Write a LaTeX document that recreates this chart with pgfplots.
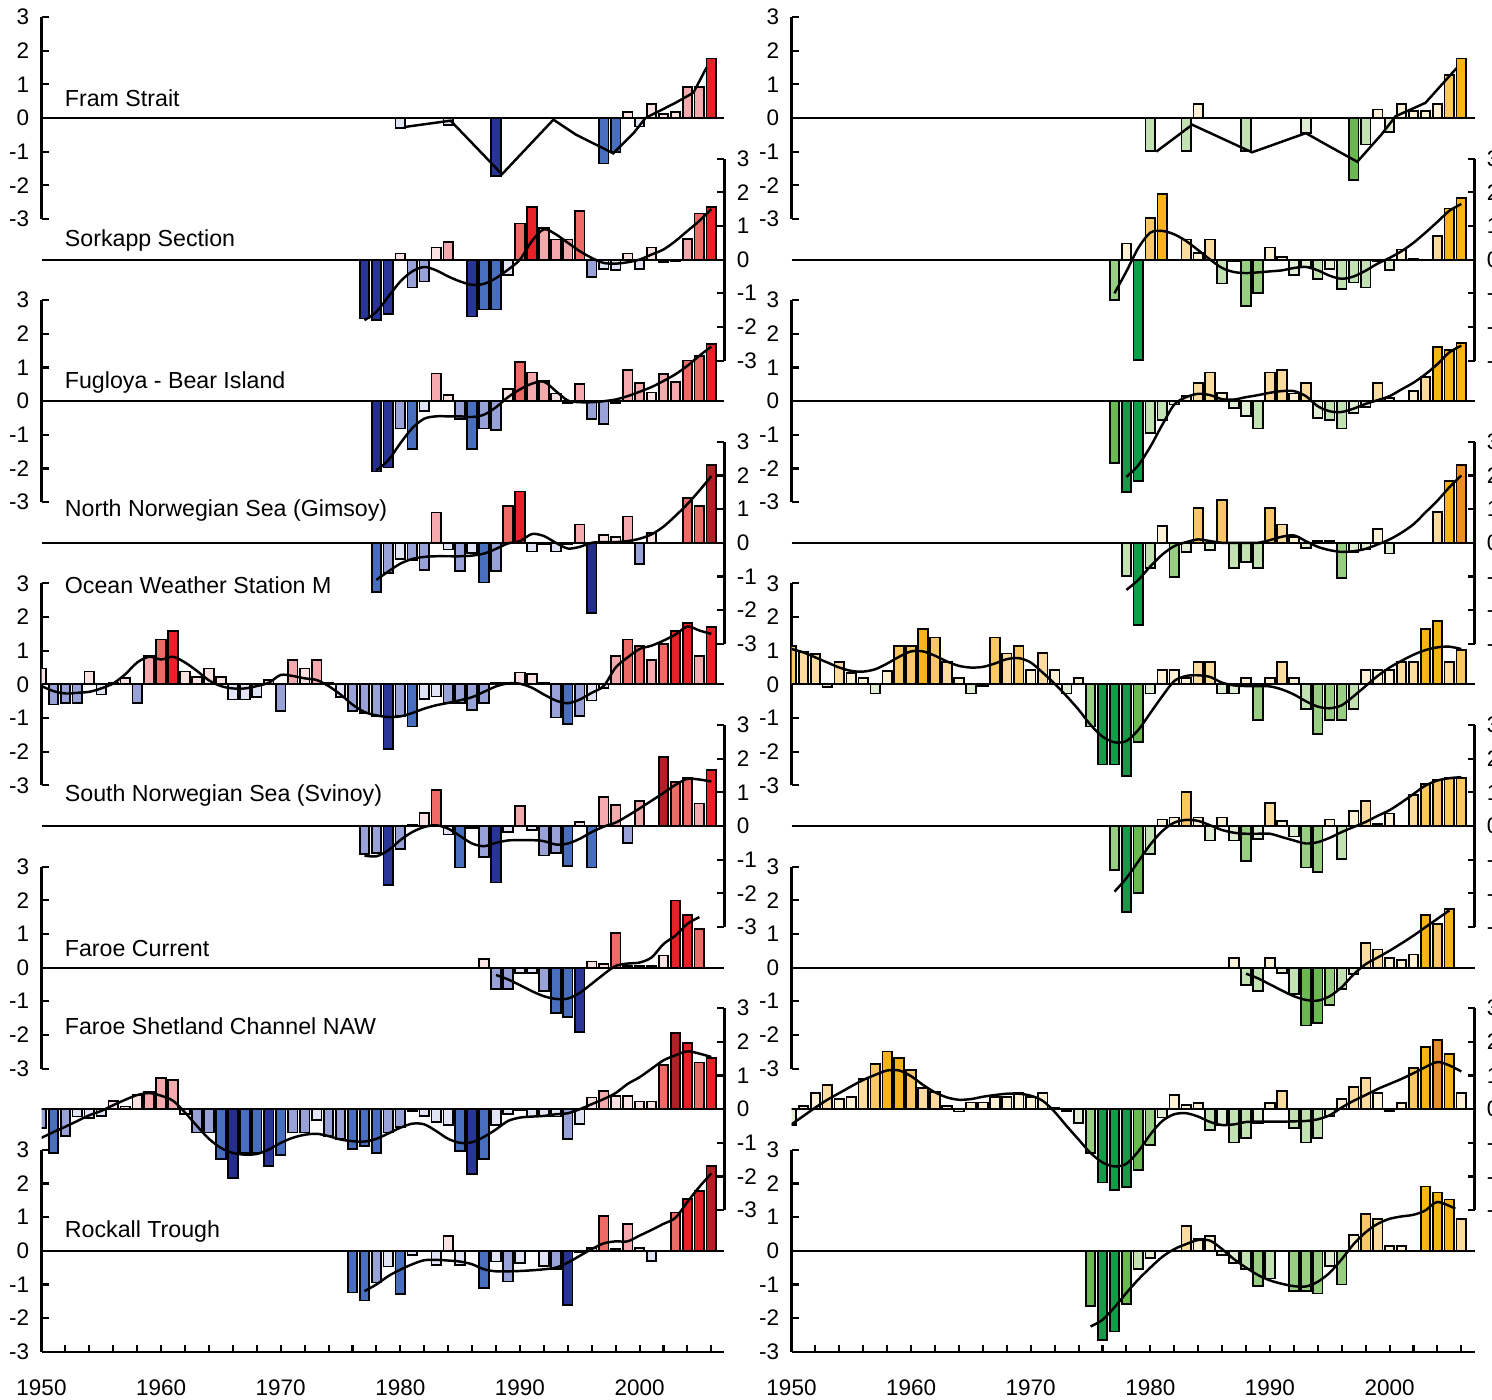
\documentclass[border=0pt]{standalone}
\usepackage{fontspec}
\setmainfont{Liberation Sans}
\usepackage{pgfplots}
\usepackage{pgfplotstable}
\pgfplotsset{compat=1.18}
\pgfkeys{/pgf/number format/assume math mode=true}
\pgfkeys{/pgf/number format/1000 sep={}}

\definecolor{Ra}{RGB}{251,226,226}
\definecolor{Rb}{RGB}{244,170,172}
\definecolor{Rc}{RGB}{238,106,102}
\definecolor{Rd}{RGB}{232,32,40}
\definecolor{Re}{RGB}{176,32,38}
\definecolor{Ba}{RGB}{224,228,245}
\definecolor{Bb}{RGB}{152,162,216}
\definecolor{Bc}{RGB}{72,110,190}
\definecolor{Bd}{RGB}{40,52,150}
\definecolor{Be}{RGB}{36,46,140}
\definecolor{Oa}{RGB}{253,242,214}
\definecolor{Ob}{RGB}{251,220,158}
\definecolor{Oc}{RGB}{250,200,98}
\definecolor{Od}{RGB}{246,180,24}
\definecolor{Oe}{RGB}{236,142,40}
\definecolor{Ga}{RGB}{224,238,214}
\definecolor{Gb}{RGB}{194,226,180}
\definecolor{Gc}{RGB}{152,206,130}
\definecolor{Gd}{RGB}{106,184,80}
\definecolor{Ge}{RGB}{18,156,72}

\newcommand{\tickfont}{\fontsize{6.4}{7}\selectfont}
\newcommand{\labfont}{\fontsize{6.6}{7.5}\selectfont}

\tikzset{lab/.style={anchor=west, font=\labfont, inner sep=0pt}}

\pgfplotsset{
  panel/.style={scale only axis, width=6.83cm, height=2.02cm, anchor=south west,
    xmin=1950, xmax=2007.1, ymin=-3, ymax=3,
    ytick={-3,-2,...,3}, tick align=inside, major tick length=0.07cm,
    axis line style={line width=0.6pt},
    every tick/.style={black, line width=0.6pt},
    tick label style={font=\tickfont},
    clip mode=individual},
  yL/.style={axis x line=none, axis y line*=left},
  yR/.style={axis x line=none, axis y line*=right},
  yLbottom/.style={axis y line*=left, axis x line*=bottom,
    xtick={1950,1960,...,2000},
    minor xtick={1952,1954,...,2006}, minor tick length=0.07cm,
    xticklabel style={yshift=-1.6mm}},
  mybar/.style={ybar, bar width=0.8, bar shift=0pt, draw=black, line width=0.5pt},
  trend/.style={black, line width=0.7pt, smooth, tension=0.5},
}

\newcommand{\drawbars}[3]{%
  \addplot[mybar,fill=#2a,restrict y to domain=0:0.4999] table {#1};
  \addplot[mybar,fill=#2b,restrict y to domain=0.5:0.9999] table {#1};
  \addplot[mybar,fill=#2c,restrict y to domain=1:1.4999] table {#1};
  \addplot[mybar,fill=#2d,restrict y to domain=1.5:1.9999] table {#1};
  \addplot[mybar,fill=#2e,restrict y to domain=2:5] table {#1};
  \addplot[mybar,fill=#3a,restrict y to domain=-0.4999:0] table {#1};
  \addplot[mybar,fill=#3b,restrict y to domain=-0.9999:-0.5] table {#1};
  \addplot[mybar,fill=#3c,restrict y to domain=-1.4999:-1] table {#1};
  \addplot[mybar,fill=#3d,restrict y to domain=-1.9999:-1.5] table {#1};
  \addplot[mybar,fill=#3e,restrict y to domain=-5:-2] table {#1};
  \draw[line width=0.6pt] (axis cs:1950,0) -- (axis cs:2007.1,0);
}

% ---------------- LEFT COLUMN (temperature) ----------------
\pgfplotstableread[row sep=\\]{x y\\
1980 -0.30\\ 1984 -0.20\\ 1988 -1.72\\ 1997 -1.35\\ 1998 -1.02\\ 1999 0.18\\ 2000 -0.25\\
2001 0.41\\ 2002 0.12\\ 2003 0.18\\ 2004 0.91\\ 2005 0.91\\ 2006 1.77\\}\LAb
\pgfplotstableread[row sep=\\]{x y\\
1980.3 -0.27\\ 1984.2 -0.08\\ 1988.5 -1.67\\ 1992.8 -0.05\\ 1994.7 -0.50\\ 1997.8 -1.05\\
1999.5 -0.45\\ 2000.5 0.00\\ 2003.0 0.45\\ 2004.5 0.75\\ 2005.6 1.50\\}\LAs

\pgfplotstableread[row sep=\\]{x y\\
1977 -1.75\\ 1978 -1.80\\ 1979 -1.62\\ 1980 0.18\\ 1981 -0.83\\ 1982 -0.65\\ 1983 0.36\\ 1984 0.52\\
1986 -1.69\\ 1987 -1.48\\ 1988 -1.48\\ 1989 -0.45\\ 1990 1.07\\ 1991 1.57\\ 1992 0.94\\ 1993 0.60\\
1994 0.60\\ 1995 1.44\\ 1996 -0.52\\ 1997 -0.27\\ 1998 -0.32\\ 1999 0.18\\ 2000 -0.27\\ 2001 0.36\\
2002 -0.07\\ 2003 -0.04\\ 2004 0.62\\ 2005 1.37\\ 2006 1.57\\}\LBb
\pgfplotstableread[row sep=\\]{x y\\
1977 -1.80\\ 1978 -1.55\\ 1979 -1.10\\ 1980 -0.65\\ 1981 -0.35\\ 1982 -0.22\\ 1983 -0.32\\ 1984 -0.50\\
1985 -0.65\\ 1986 -0.75\\ 1987 -0.72\\ 1988 -0.55\\ 1989 -0.30\\ 1990 0.00\\ 1991 0.55\\ 1992 0.90\\
1993 0.75\\ 1994 0.50\\ 1995 0.25\\ 1996 0.05\\ 1997 -0.10\\ 1998 -0.12\\ 1999 -0.08\\ 2000 0.00\\
2001 0.15\\ 2002 0.30\\ 2003 0.55\\ 2004 0.85\\ 2005 1.15\\ 2006 1.50\\}\LBs

\pgfplotstableread[row sep=\\]{x y\\
1978 -2.09\\ 1979 -1.97\\ 1980 -0.81\\ 1981 -1.42\\ 1982 -0.29\\ 1983 0.82\\ 1984 0.18\\ 1985 -0.54\\
1986 -1.42\\ 1987 -0.81\\ 1988 -0.86\\ 1989 0.37\\ 1990 1.16\\ 1991 0.85\\ 1992 0.60\\ 1993 0.23\\
1994 -0.05\\ 1995 0.52\\ 1996 -0.54\\ 1997 -0.68\\ 1998 -0.05\\ 1999 0.92\\ 2000 0.54\\ 2001 0.26\\
2002 0.80\\ 2003 0.57\\ 2004 1.21\\ 2005 1.34\\ 2006 1.70\\}\LCb
\pgfplotstableread[row sep=\\]{x y\\
1978 -2.05\\ 1979 -1.75\\ 1980 -1.25\\ 1981 -0.80\\ 1982 -0.52\\ 1983 -0.45\\ 1984 -0.45\\ 1985 -0.45\\
1986 -0.47\\ 1987 -0.40\\ 1988 -0.18\\ 1989 0.12\\ 1990 0.35\\ 1991 0.52\\ 1992 0.58\\ 1993 0.30\\
1994 0.02\\ 1995 -0.03\\ 1996 -0.03\\ 1997 0.00\\ 1998 0.05\\ 1999 0.15\\ 2000 0.28\\ 2001 0.42\\
2002 0.60\\ 2003 0.80\\ 2004 1.05\\ 2005 1.35\\ 2006 1.62\\}\LCs

\pgfplotstableread[row sep=\\]{x y\\
1978 -1.47\\ 1979 -0.90\\ 1980 -0.48\\ 1981 -0.52\\ 1982 -0.80\\ 1983 0.90\\ 1984 -0.20\\ 1985 -0.83\\
1986 -0.30\\ 1987 -1.18\\ 1988 -0.83\\ 1989 1.10\\ 1990 1.52\\ 1991 -0.26\\ 1992 -0.05\\ 1993 -0.26\\
1994 -0.05\\ 1995 0.54\\ 1996 -2.09\\ 1997 0.22\\ 1998 0.17\\ 1999 0.78\\ 2000 -0.62\\ 2001 0.29\\
2004 1.32\\ 2005 1.10\\ 2006 2.30\\}\LDb
\pgfplotstableread[row sep=\\]{x y\\
1978 -1.10\\ 1979 -0.85\\ 1980 -0.62\\ 1981 -0.48\\ 1982 -0.42\\ 1983 -0.40\\ 1984 -0.40\\ 1985 -0.40\\
1986 -0.38\\ 1987 -0.32\\ 1988 -0.18\\ 1989 -0.02\\ 1990 0.05\\ 1991 0.26\\ 1992 0.20\\ 1993 0.00\\
1994 -0.17\\ 1995 -0.12\\ 1996 0.00\\ 1997 0.02\\ 1998 0.02\\ 1999 0.05\\ 2000 0.12\\ 2001 0.25\\
2002 0.48\\ 2003 0.80\\ 2004 1.15\\ 2005 1.55\\ 2006 1.98\\}\LDs

\pgfplotstableread[row sep=\\]{x y\\
1950 0.47\\ 1951 -0.60\\ 1952 -0.55\\ 1953 -0.55\\ 1954 0.38\\ 1955 -0.30\\ 1956 0.05\\ 1957 0.18\\
1958 -0.55\\ 1959 0.84\\ 1960 1.33\\ 1961 1.58\\ 1962 0.38\\ 1963 0.23\\ 1964 0.47\\ 1965 0.23\\
1966 -0.45\\ 1967 -0.45\\ 1968 -0.38\\ 1969 0.13\\ 1970 -0.80\\ 1971 0.72\\ 1972 0.47\\ 1973 0.72\\
1974 0.05\\ 1975 -0.38\\ 1976 -0.80\\ 1977 -0.85\\ 1978 -0.93\\ 1979 -1.92\\ 1980 -0.93\\ 1981 -1.25\\
1982 -0.44\\ 1983 -0.36\\ 1984 -0.56\\ 1985 -0.56\\ 1986 -0.76\\ 1987 -0.56\\ 1988 0.05\\ 1989 0.05\\
1990 0.35\\ 1991 0.30\\ 1992 0.05\\ 1993 -0.98\\ 1994 -1.18\\ 1995 -0.93\\ 1996 -0.48\\ 1997 -0.10\\
1998 0.84\\ 1999 1.33\\ 2000 1.13\\ 2001 0.72\\ 2002 1.21\\ 2003 1.58\\ 2004 1.82\\ 2005 0.84\\ 2006 1.70\\}\LEb
\pgfplotstableread[row sep=\\]{x y\\
1950 -0.05\\ 1951 -0.20\\ 1952 -0.27\\ 1953 -0.25\\ 1954 -0.22\\ 1955 -0.12\\ 1956 0.03\\ 1957 0.30\\
1958 0.65\\ 1959 0.82\\ 1960 0.74\\ 1961 0.82\\ 1962 0.65\\ 1963 0.40\\ 1964 0.12\\ 1965 -0.05\\
1966 -0.12\\ 1967 -0.12\\ 1968 -0.05\\ 1969 0.05\\ 1970 0.28\\ 1971 0.25\\ 1972 0.18\\ 1973 0.13\\
1974 -0.05\\ 1975 -0.30\\ 1976 -0.60\\ 1977 -0.82\\ 1978 -0.92\\ 1979 -0.97\\ 1980 -0.95\\ 1981 -0.85\\
1982 -0.72\\ 1983 -0.62\\ 1984 -0.55\\ 1985 -0.47\\ 1986 -0.38\\ 1987 -0.22\\ 1988 -0.06\\ 1989 0.03\\
1990 0.02\\ 1991 -0.10\\ 1992 -0.30\\ 1993 -0.48\\ 1994 -0.56\\ 1995 -0.45\\ 1996 -0.25\\ 1997 -0.05\\
1998 0.50\\ 1999 0.80\\ 2000 1.05\\ 2001 1.15\\ 2002 1.30\\ 2003 1.48\\ 2004 1.72\\ 2005 1.60\\ 2006 1.50\\}\LEs

\pgfplotstableread[row sep=\\]{x y\\
1977 -0.83\\ 1978 -0.81\\ 1979 -1.75\\ 1980 -0.68\\ 1981 0.03\\ 1982 0.39\\ 1983 1.07\\ 1984 -0.25\\
1985 -1.23\\ 1986 -0.05\\ 1987 -0.93\\ 1988 -1.68\\ 1989 -0.18\\ 1990 0.60\\ 1991 -0.13\\ 1992 -0.88\\
1993 -0.81\\ 1994 -1.18\\ 1995 0.12\\ 1996 -1.23\\ 1997 0.87\\ 1998 0.62\\ 1999 -0.51\\ 2000 0.75\\
2002 2.05\\ 2003 1.30\\ 2004 1.42\\ 2005 0.67\\ 2006 1.67\\}\LFb
\pgfplotstableread[row sep=\\]{x y\\
1977 -0.88\\ 1978 -0.90\\ 1979 -0.72\\ 1980 -0.42\\ 1981 -0.18\\ 1982 -0.03\\ 1983 0.02\\ 1984 -0.08\\
1985 -0.30\\ 1986 -0.52\\ 1987 -0.60\\ 1988 -0.50\\ 1989 -0.43\\ 1990 -0.42\\ 1991 -0.42\\ 1992 -0.45\\
1993 -0.55\\ 1994 -0.52\\ 1995 -0.38\\ 1996 -0.18\\ 1997 -0.02\\ 1998 0.10\\ 1999 0.30\\ 2000 0.52\\
2001 0.75\\ 2002 0.98\\ 2003 1.22\\ 2004 1.40\\ 2005 1.38\\ 2006 1.32\\}\LFs

\pgfplotstableread[row sep=\\]{x y\\
1987 0.25\\ 1988 -0.64\\ 1989 -0.64\\ 1990 -0.15\\ 1991 -0.15\\ 1992 -0.69\\ 1993 -1.35\\ 1994 -1.47\\
1995 -1.91\\ 1996 0.18\\ 1997 0.10\\ 1998 1.03\\ 1999 0.05\\ 2000 0.05\\ 2001 0.05\\ 2002 0.36\\
2003 1.99\\ 2004 1.57\\ 2005 1.15\\}\LGb
\pgfplotstableread[row sep=\\]{x y\\
1988 -0.22\\ 1989 -0.35\\ 1990 -0.52\\ 1991 -0.70\\ 1992 -0.85\\ 1993 -0.93\\ 1994 -0.92\\ 1995 -0.75\\
1996 -0.48\\ 1997 -0.20\\ 1998 0.05\\ 1999 0.12\\ 2000 0.15\\ 2001 0.30\\ 2002 0.70\\ 2003 0.95\\
2004 1.30\\ 2005 1.50\\}\LGs

\pgfplotstableread[row sep=\\]{x y\\
1950 -0.56\\ 1951 -1.30\\ 1952 -0.80\\ 1953 -0.22\\ 1954 -0.27\\ 1955 -0.20\\ 1956 0.25\\ 1957 0.08\\
1958 0.42\\ 1959 0.52\\ 1960 0.92\\ 1961 0.87\\ 1962 -0.15\\ 1963 -0.69\\ 1964 -0.69\\ 1965 -1.49\\
1966 -2.05\\ 1967 -1.30\\ 1968 -1.30\\ 1969 -1.68\\ 1970 -1.36\\ 1971 -0.69\\ 1972 -0.69\\ 1973 -0.32\\
1974 -0.80\\ 1975 -0.88\\ 1976 -1.18\\ 1977 -1.10\\ 1978 -1.30\\ 1979 -0.69\\ 1980 -0.52\\ 1981 -0.05\\
1982 -0.20\\ 1983 -0.37\\ 1984 -0.48\\ 1985 -1.25\\ 1986 -1.92\\ 1987 -1.49\\ 1988 -0.48\\ 1989 -0.15\\
1990 -0.03\\ 1991 -0.22\\ 1992 -0.22\\ 1993 -0.22\\ 1994 -0.88\\ 1995 -0.45\\ 1996 0.35\\ 1997 0.55\\
1998 0.40\\ 1999 0.40\\ 2000 0.23\\ 2001 0.23\\ 2002 1.32\\ 2003 2.26\\ 2004 1.96\\ 2005 1.39\\ 2006 1.51\\}\LHb
\pgfplotstableread[row sep=\\]{x y\\
1950 -0.85\\ 1951 -0.68\\ 1952 -0.52\\ 1953 -0.35\\ 1954 -0.18\\ 1955 -0.05\\ 1956 0.12\\ 1957 0.28\\
1958 0.42\\ 1959 0.48\\ 1960 0.40\\ 1961 0.25\\ 1962 -0.10\\ 1963 -0.50\\ 1964 -0.88\\ 1965 -1.15\\
1966 -1.30\\ 1967 -1.35\\ 1968 -1.33\\ 1969 -1.20\\ 1970 -1.00\\ 1971 -0.85\\ 1972 -0.76\\ 1973 -0.73\\
1974 -0.80\\ 1975 -0.90\\ 1976 -0.95\\ 1977 -0.96\\ 1978 -0.88\\ 1979 -0.72\\ 1980 -0.55\\ 1981 -0.43\\
1982 -0.45\\ 1983 -0.65\\ 1984 -0.88\\ 1985 -1.00\\ 1986 -0.98\\ 1987 -0.82\\ 1988 -0.60\\ 1989 -0.35\\
1990 -0.25\\ 1991 -0.22\\ 1992 -0.20\\ 1993 -0.15\\ 1994 -0.12\\ 1995 0.00\\ 1996 0.15\\ 1997 0.30\\
1998 0.48\\ 1999 0.75\\ 2000 0.95\\ 2001 1.20\\ 2002 1.45\\ 2003 1.60\\ 2004 1.72\\ 2005 1.65\\ 2006 1.55\\}\LHs

\pgfplotstableread[row sep=\\]{x y\\
1976 -1.24\\ 1977 -1.48\\ 1978 -0.94\\ 1979 -0.47\\ 1980 -1.28\\ 1981 -0.12\\ 1983 -0.42\\ 1984 0.45\\
1985 -0.42\\ 1987 -1.10\\ 1988 -0.32\\ 1989 -0.91\\ 1990 -0.37\\ 1992 -0.45\\ 1993 -0.54\\ 1994 -1.60\\
1995 -0.05\\ 1996 0.08\\ 1997 1.04\\ 1998 0.05\\ 1999 0.80\\ 2000 0.08\\ 2001 -0.30\\ 2003 1.14\\
2004 1.53\\ 2005 1.78\\ 2006 2.52\\}\LIb
\pgfplotstableread[row sep=\\]{x y\\
1977 -1.20\\ 1978 -1.00\\ 1979 -0.75\\ 1980 -0.56\\ 1981 -0.40\\ 1982 -0.28\\ 1983 -0.27\\ 1984 -0.29\\
1985 -0.32\\ 1986 -0.40\\ 1987 -0.55\\ 1988 -0.61\\ 1989 -0.61\\ 1990 -0.60\\ 1991 -0.58\\ 1992 -0.55\\
1993 -0.50\\ 1994 -0.35\\ 1995 -0.15\\ 1996 0.05\\ 1997 0.22\\ 1998 0.28\\ 1999 0.28\\ 2000 0.45\\
2001 0.62\\ 2002 0.80\\ 2003 0.98\\ 2004 1.45\\ 2005 1.90\\ 2006 2.30\\}\LIs

% ---------------- RIGHT COLUMN (salinity) ----------------
\pgfplotstableread[row sep=\\]{x y\\
1980 -0.98\\ 1983 -0.98\\ 1984 0.41\\ 1988 -0.98\\ 1993 -0.44\\ 1997 -1.84\\ 1998 -0.79\\ 1999 0.25\\
2000 -0.42\\ 2001 0.41\\ 2002 0.20\\ 2003 0.20\\ 2004 0.41\\ 2005 1.28\\ 2006 1.77\\}\RAb
\pgfplotstableread[row sep=\\]{x y\\
1980.5 -1.00\\ 1983.5 -0.20\\ 1988.5 -1.02\\ 1993.0 -0.45\\ 1995.0 -0.85\\ 1997.3 -1.30\\ 1999.3 -0.50\\
2000.5 0.05\\ 2003.0 0.45\\ 2005.6 1.48\\}\RAs

\pgfplotstableread[row sep=\\]{x y\\
1977 -1.21\\ 1978 0.48\\ 1979 -2.98\\ 1980 1.24\\ 1981 1.95\\ 1983 0.60\\ 1984 0.20\\ 1985 0.60\\
1986 -0.71\\ 1987 -0.05\\ 1988 -1.38\\ 1989 -1.00\\ 1990 0.36\\ 1991 0.08\\ 1992 -0.45\\ 1993 -0.22\\
1994 -0.58\\ 1995 -0.27\\ 1996 -0.88\\ 1997 -0.68\\ 1998 -0.83\\ 1999 -0.05\\ 2000 -0.32\\ 2001 0.30\\
2002 0.03\\ 2004 0.69\\ 2005 1.52\\ 2006 1.82\\}\RBb
\pgfplotstableread[row sep=\\]{x y\\
1977 -1.00\\ 1978 -0.35\\ 1979 0.35\\ 1980 0.80\\ 1981 0.85\\ 1982 0.75\\ 1983 0.55\\ 1984 0.28\\
1985 0.00\\ 1986 -0.25\\ 1987 -0.37\\ 1988 -0.40\\ 1989 -0.38\\ 1990 -0.35\\ 1991 -0.32\\ 1992 -0.25\\
1993 -0.22\\ 1994 -0.32\\ 1995 -0.48\\ 1996 -0.57\\ 1997 -0.50\\ 1998 -0.33\\ 1999 -0.12\\ 2000 0.05\\
2001 0.25\\ 2002 0.50\\ 2003 0.80\\ 2004 1.12\\ 2005 1.45\\ 2006 1.65\\}\RBs

\pgfplotstableread[row sep=\\]{x y\\
1977 -1.84\\ 1978 -2.70\\ 1979 -2.38\\ 1980 -0.94\\ 1981 -0.56\\ 1982 -0.10\\ 1983 0.16\\ 1984 0.54\\
1985 0.85\\ 1986 0.25\\ 1987 -0.20\\ 1988 -0.44\\ 1989 -0.81\\ 1990 0.85\\ 1991 0.92\\ 1992 0.23\\
1993 0.54\\ 1994 -0.49\\ 1995 -0.56\\ 1996 -0.81\\ 1997 -0.36\\ 1998 -0.17\\ 1999 0.55\\ 2000 0.10\\
2002 0.30\\ 2003 0.72\\ 2004 1.60\\ 2005 1.53\\ 2006 1.72\\}\RCb
\pgfplotstableread[row sep=\\]{x y\\
1978 -2.25\\ 1979 -1.90\\ 1980 -1.35\\ 1981 -0.70\\ 1982 -0.10\\ 1983 0.12\\ 1984 0.22\\ 1985 0.18\\
1986 0.06\\ 1987 0.05\\ 1988 0.12\\ 1989 0.18\\ 1990 0.25\\ 1991 0.30\\ 1992 0.30\\ 1993 0.15\\
1994 -0.15\\ 1995 -0.30\\ 1996 -0.32\\ 1997 -0.22\\ 1998 -0.08\\ 1999 0.03\\ 2000 0.15\\ 2001 0.35\\
2002 0.55\\ 2003 0.80\\ 2004 1.10\\ 2005 1.45\\ 2006 1.65\\}\RCs

\pgfplotstableread[row sep=\\]{x y\\
1978 -0.99\\ 1979 -2.45\\ 1980 -0.74\\ 1981 0.49\\ 1982 -1.02\\ 1983 -0.27\\ 1984 1.03\\ 1985 -0.22\\
1986 1.27\\ 1987 -0.75\\ 1988 -0.56\\ 1989 -0.75\\ 1990 1.03\\ 1991 0.54\\ 1992 0.17\\ 1993 -0.15\\
1994 0.05\\ 1995 0.05\\ 1996 -1.05\\ 1997 -0.29\\ 1998 -0.20\\ 1999 0.42\\ 2000 -0.32\\ 2004 0.91\\
2005 1.83\\ 2006 2.30\\}\RDb
\pgfplotstableread[row sep=\\]{x y\\
1978 -1.40\\ 1979 -1.10\\ 1980 -0.70\\ 1981 -0.35\\ 1982 -0.10\\ 1983 0.02\\ 1984 0.10\\ 1985 0.05\\
1986 0.00\\ 1987 0.00\\ 1988 0.00\\ 1989 0.00\\ 1990 0.08\\ 1991 0.18\\ 1992 0.22\\ 1993 0.05\\
1994 -0.12\\ 1995 -0.22\\ 1996 -0.27\\ 1997 -0.25\\ 1998 -0.18\\ 1999 -0.05\\ 2000 0.10\\ 2001 0.30\\
2002 0.55\\ 2003 0.90\\ 2004 1.25\\ 2005 1.65\\ 2006 2.00\\}\RDs

\pgfplotstableread[row sep=\\]{x y\\
1950 1.13\\ 1951 0.97\\ 1952 0.90\\ 1953 -0.07\\ 1954 0.67\\ 1955 0.34\\ 1956 0.18\\ 1957 -0.27\\
1958 0.40\\ 1959 1.15\\ 1960 1.15\\ 1961 1.64\\ 1962 1.39\\ 1963 0.67\\ 1964 0.18\\ 1965 -0.27\\
1966 -0.05\\ 1967 1.39\\ 1968 0.92\\ 1969 1.15\\ 1970 0.42\\ 1971 0.94\\ 1972 0.42\\ 1973 -0.27\\
1974 0.18\\ 1975 -1.25\\ 1976 -2.38\\ 1977 -2.38\\ 1978 -2.71\\ 1979 -1.72\\ 1980 -0.27\\ 1981 0.42\\
1982 0.42\\ 1983 0.18\\ 1984 0.67\\ 1985 0.67\\ 1986 -0.27\\ 1987 -0.27\\ 1988 0.18\\ 1989 -1.05\\
1990 0.18\\ 1991 0.67\\ 1992 0.18\\ 1993 -0.74\\ 1994 -1.48\\ 1995 -1.05\\ 1996 -1.05\\ 1997 -0.74\\
1998 0.42\\ 1999 0.42\\ 2000 0.42\\ 2001 0.67\\ 2002 0.67\\ 2003 1.64\\ 2004 1.88\\ 2005 0.67\\ 2006 1.03\\}\REb
\pgfplotstableread[row sep=\\]{x y\\
1950 1.05\\ 1951 0.95\\ 1952 0.80\\ 1953 0.65\\ 1954 0.50\\ 1955 0.40\\ 1956 0.38\\ 1957 0.45\\
1958 0.62\\ 1959 0.82\\ 1960 0.98\\ 1961 0.98\\ 1962 0.85\\ 1963 0.68\\ 1964 0.55\\ 1965 0.50\\
1966 0.52\\ 1967 0.62\\ 1968 0.75\\ 1969 0.78\\ 1970 0.65\\ 1971 0.35\\ 1972 0.02\\ 1973 -0.35\\
1974 -0.75\\ 1975 -1.20\\ 1976 -1.55\\ 1977 -1.72\\ 1978 -1.68\\ 1979 -1.35\\ 1980 -0.85\\ 1981 -0.35\\
1982 0.10\\ 1983 0.25\\ 1984 0.27\\ 1985 0.22\\ 1986 0.05\\ 1987 -0.03\\ 1988 -0.05\\ 1989 -0.05\\
1990 -0.06\\ 1991 -0.15\\ 1992 -0.30\\ 1993 -0.50\\ 1994 -0.66\\ 1995 -0.71\\ 1996 -0.62\\ 1997 -0.35\\
1998 -0.05\\ 1999 0.25\\ 2000 0.50\\ 2001 0.70\\ 2002 0.88\\ 2003 1.02\\ 2004 1.10\\ 2005 1.12\\ 2006 1.05\\}\REs

\pgfplotstableread[row sep=\\]{x y\\
1977 -1.31\\ 1978 -2.55\\ 1979 -1.98\\ 1980 -0.83\\ 1981 0.19\\ 1982 0.25\\ 1983 1.00\\ 1984 0.25\\
1985 -0.43\\ 1986 0.25\\ 1987 -0.43\\ 1988 -1.05\\ 1989 -0.38\\ 1990 0.69\\ 1991 0.15\\ 1992 -0.31\\
1993 -1.23\\ 1994 -1.36\\ 1995 0.19\\ 1996 -0.98\\ 1997 0.44\\ 1998 0.75\\ 1999 0.05\\ 2000 0.37\\
2002 0.92\\ 2003 1.25\\ 2004 1.37\\ 2005 1.42\\ 2006 1.42\\}\RFb
\pgfplotstableread[row sep=\\]{x y\\
1977 -1.95\\ 1978 -1.55\\ 1979 -1.05\\ 1980 -0.55\\ 1981 -0.15\\ 1982 0.10\\ 1983 0.18\\ 1984 0.15\\
1985 0.02\\ 1986 -0.12\\ 1987 -0.20\\ 1988 -0.23\\ 1989 -0.23\\ 1990 -0.23\\ 1991 -0.33\\ 1992 -0.43\\
1993 -0.52\\ 1994 -0.48\\ 1995 -0.35\\ 1996 -0.18\\ 1997 -0.03\\ 1998 0.12\\ 1999 0.30\\ 2000 0.47\\
2001 0.70\\ 2002 0.95\\ 2003 1.20\\ 2004 1.35\\ 2005 1.42\\ 2006 1.45\\}\RFs

\pgfplotstableread[row sep=\\]{x y\\
1987 0.29\\ 1988 -0.52\\ 1989 -0.69\\ 1990 0.29\\ 1991 -0.15\\ 1992 -0.78\\ 1993 -1.72\\ 1994 -1.65\\
1995 -1.10\\ 1996 -0.64\\ 1997 -0.20\\ 1998 0.72\\ 1999 0.54\\ 2000 0.29\\ 2001 0.23\\ 2002 0.39\\
2003 1.57\\ 2004 1.30\\ 2005 1.75\\}\RGb
\pgfplotstableread[row sep=\\]{x y\\
1988 -0.18\\ 1989 -0.32\\ 1990 -0.50\\ 1991 -0.68\\ 1992 -0.85\\ 1993 -0.96\\ 1994 -0.98\\ 1995 -0.85\\
1996 -0.58\\ 1997 -0.20\\ 1998 0.10\\ 1999 0.30\\ 2000 0.50\\ 2001 0.72\\ 2002 0.95\\ 2003 1.20\\
2004 1.45\\ 2005 1.70\\}\RGs

\pgfplotstableread[row sep=\\]{x y\\
1950 -0.48\\ 1951 0.10\\ 1952 0.47\\ 1953 0.72\\ 1954 0.30\\ 1955 0.36\\ 1956 0.89\\ 1957 1.35\\
1958 1.71\\ 1959 1.51\\ 1960 1.17\\ 1961 0.64\\ 1962 0.52\\ 1963 0.10\\ 1964 -0.07\\ 1965 0.20\\
1966 0.20\\ 1967 0.36\\ 1968 0.36\\ 1969 0.47\\ 1970 0.36\\ 1971 0.47\\ 1972 0.03\\ 1973 -0.05\\
1974 -0.42\\ 1975 -1.30\\ 1976 -2.18\\ 1977 -2.40\\ 1978 -2.30\\ 1979 -1.80\\ 1980 -1.06\\ 1981 -0.25\\
1982 0.43\\ 1983 0.13\\ 1984 0.18\\ 1985 -0.61\\ 1986 -0.47\\ 1987 -0.99\\ 1988 -0.86\\ 1989 -0.42\\
1990 0.18\\ 1991 0.55\\ 1992 -0.55\\ 1993 -0.99\\ 1994 -0.86\\ 1995 -0.20\\ 1996 0.30\\ 1997 0.65\\
1998 0.92\\ 1999 0.47\\ 2000 -0.05\\ 2001 0.18\\ 2002 1.22\\ 2003 1.84\\ 2004 2.06\\ 2005 1.64\\ 2006 0.47\\}\RHb
\pgfplotstableread[row sep=\\]{x y\\
1950 -0.45\\ 1951 -0.20\\ 1952 0.05\\ 1953 0.28\\ 1954 0.48\\ 1955 0.68\\ 1956 0.87\\ 1957 1.02\\
1958 1.15\\ 1959 1.15\\ 1960 0.98\\ 1961 0.72\\ 1962 0.50\\ 1963 0.35\\ 1964 0.28\\ 1965 0.30\\
1966 0.37\\ 1967 0.42\\ 1968 0.46\\ 1969 0.46\\ 1970 0.40\\ 1971 0.25\\ 1972 -0.08\\ 1973 -0.50\\
1974 -0.90\\ 1975 -1.30\\ 1976 -1.58\\ 1977 -1.70\\ 1978 -1.62\\ 1979 -1.25\\ 1980 -0.75\\ 1981 -0.35\\
1982 -0.15\\ 1983 -0.12\\ 1984 -0.22\\ 1985 -0.38\\ 1986 -0.47\\ 1987 -0.45\\ 1988 -0.38\\ 1989 -0.37\\
1990 -0.37\\ 1991 -0.37\\ 1992 -0.36\\ 1993 -0.35\\ 1994 -0.30\\ 1995 -0.18\\ 1996 0.05\\ 1997 0.25\\
1998 0.42\\ 1999 0.60\\ 2000 0.75\\ 2001 0.90\\ 2002 1.07\\ 2003 1.25\\ 2004 1.40\\ 2005 1.30\\ 2006 1.12\\}\RHs

\pgfplotstableread[row sep=\\]{x y\\
1975 -1.65\\ 1976 -2.64\\ 1977 -2.40\\ 1978 -1.58\\ 1979 -0.54\\ 1980 -0.22\\ 1983 0.74\\ 1984 0.36\\
1985 0.45\\ 1986 -0.12\\ 1987 -0.37\\ 1988 -0.55\\ 1989 -1.05\\ 1990 -0.82\\ 1992 -1.20\\ 1993 -1.20\\
1994 -1.27\\ 1995 -0.45\\ 1996 -1.00\\ 1997 0.48\\ 1998 1.10\\ 1999 0.95\\ 2000 0.15\\ 2001 0.15\\
2003 1.91\\ 2004 1.73\\ 2005 1.52\\ 2006 0.94\\}\RIb
\pgfplotstableread[row sep=\\]{x y\\
1975 -2.25\\ 1976 -2.05\\ 1977 -1.68\\ 1978 -1.25\\ 1979 -0.85\\ 1980 -0.50\\ 1981 -0.18\\ 1982 0.05\\
1983 0.20\\ 1984 0.32\\ 1985 0.30\\ 1986 0.05\\ 1987 -0.25\\ 1988 -0.50\\ 1989 -0.72\\ 1990 -0.88\\
1991 -0.98\\ 1992 -1.05\\ 1993 -1.06\\ 1994 -0.92\\ 1995 -0.65\\ 1996 -0.25\\ 1997 0.20\\ 1998 0.55\\
1999 0.80\\ 2000 0.95\\ 2001 1.02\\ 2002 1.07\\ 2003 1.20\\ 2004 1.45\\ 2005.5 1.25\\}\RIs

\begin{document}
\begin{tikzpicture}
% ===== left column =====
\begin{axis}[panel, yL, at={(0.415cm,11.81cm)}]
 \drawbars{\LAb}{R}{B}
 \addplot[trend, sharp plot] table {\LAs};
 \node[lab] at (axis cs:1951.9,0.59) {Fram Strait};
\end{axis}
\begin{axis}[panel, yR, at={(0.415cm,10.394cm)}]
 \drawbars{\LBb}{R}{B}
 \addplot[trend] table {\LBs};
 \node[lab] at (axis cs:1951.9,0.56) {Sorkapp Section};
\end{axis}
\begin{axis}[panel, yL, at={(0.415cm,8.978cm)}]
 \drawbars{\LCb}{R}{B}
 \addplot[trend] table {\LCs};
 \node[lab] at (axis cs:1951.9,0.55) {Fugloya - Bear Island};
\end{axis}
\begin{axis}[panel, yR, at={(0.415cm,7.562cm)}]
 \drawbars{\LDb}{R}{B}
 \addplot[trend] table {\LDs};
 \node[lab] at (axis cs:1951.9,0.95) {North Norwegian Sea (Gimsoy)};
\end{axis}
\begin{axis}[panel, yL, at={(0.415cm,6.146cm)}]
 \drawbars{\LEb}{R}{B}
 \addplot[trend] table {\LEs};
 \node[lab] at (axis cs:1951.9,2.94) {Ocean Weather Station M};
\end{axis}
\begin{axis}[panel, yR, at={(0.415cm,4.73cm)}]
 \drawbars{\LFb}{R}{B}
 \addplot[trend] table {\LFs};
 \node[lab] at (axis cs:1951.9,0.92) {South Norwegian Sea (Svinoy)};
\end{axis}
\begin{axis}[panel, yL, at={(0.415cm,3.314cm)}]
 \drawbars{\LGb}{R}{B}
 \addplot[trend] table {\LGs};
 \node[lab] at (axis cs:1951.9,0.56) {Faroe Current};
\end{axis}
\begin{axis}[panel, yR, at={(0.415cm,1.898cm)}]
 \drawbars{\LHb}{R}{B}
 \addplot[trend] table {\LHs};
 \node[lab] at (axis cs:1951.9,2.46) {Faroe Shetland Channel NAW};
\end{axis}
\begin{axis}[panel, yLbottom, at={(0.415cm,0.482cm)}]
 \drawbars{\LIb}{R}{B}
 \addplot[trend] table {\LIs};
 \node[lab] at (axis cs:1951.9,0.56) {Rockall Trough};
\end{axis}
% ===== right column =====
\begin{axis}[panel, yL, at={(7.915cm,11.81cm)}]
 \drawbars{\RAb}{O}{G}
 \addplot[trend, sharp plot] table {\RAs};
\end{axis}
\begin{axis}[panel, yR, at={(7.915cm,10.394cm)}]
 \drawbars{\RBb}{O}{G}
 \addplot[trend] table {\RBs};
\end{axis}
\begin{axis}[panel, yL, at={(7.915cm,8.978cm)}]
 \drawbars{\RCb}{O}{G}
 \addplot[trend] table {\RCs};
\end{axis}
\begin{axis}[panel, yR, at={(7.915cm,7.562cm)}]
 \drawbars{\RDb}{O}{G}
 \addplot[trend] table {\RDs};
\end{axis}
\begin{axis}[panel, yL, at={(7.915cm,6.146cm)}]
 \drawbars{\REb}{O}{G}
 \addplot[trend] table {\REs};
\end{axis}
\begin{axis}[panel, yR, at={(7.915cm,4.73cm)}]
 \drawbars{\RFb}{O}{G}
 \addplot[trend] table {\RFs};
\end{axis}
\begin{axis}[panel, yL, at={(7.915cm,3.314cm)}]
 \drawbars{\RGb}{O}{G}
 \addplot[trend] table {\RGs};
\end{axis}
\begin{axis}[panel, yR, at={(7.915cm,1.898cm)}]
 \drawbars{\RHb}{O}{G}
 \addplot[trend] table {\RHs};
\end{axis}
\begin{axis}[panel, yLbottom, at={(7.915cm,0.482cm)}]
 \drawbars{\RIb}{O}{G}
 \addplot[trend] table {\RIs};
\end{axis}
\pgfresetboundingbox
\path[use as bounding box] (0,0) rectangle (14.92,14.0);
\end{tikzpicture}
\end{document}
